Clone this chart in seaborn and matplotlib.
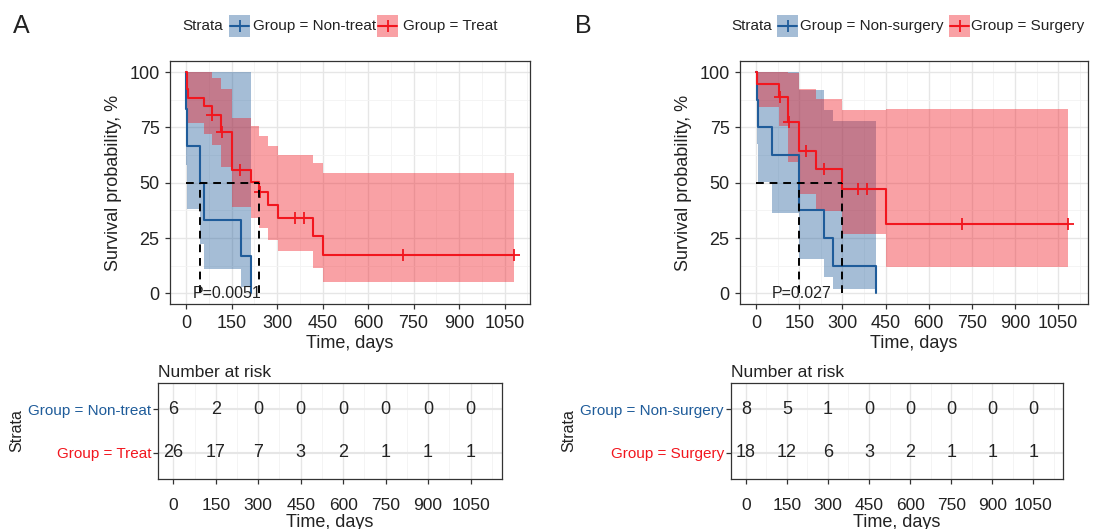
"""
Two Kaplan-Meier panels (A: treat vs non-treat, B: surgery vs non-surgery)
with 95% CI bands, median lines and a number-at-risk table under each.
"""

import matplotlib
matplotlib.use("Agg")
import matplotlib.pyplot as plt
import pandas as pd
import seaborn as sns
from matplotlib.patches import Rectangle

W, H = 1110, 529
BLUE = "#1F5C9A"
RED = "#F2161E"
BAND_ALPHA = 0.4
TEXT = "#222222"

# ---------------- data ----------------
# Panel A
a_groups = ["Group = Non-treat", "Group = Treat"]
a_nt_time = [0, 1, 4, 46, 59, 181, 213]
a_nt_surv = [100, 83.3, 66.7, 50, 33.3, 16.7, 0]
a_nt_upper = [100, 100, 100, 100, 100, 100, 100]
a_nt_lower = [100, 58, 37.9, 22.5, 10.8, 2.8, 2.8]

a_tr_time = [0, 3, 6, 60, 85, 115, 150, 213, 240, 270, 302, 420, 451, 1080]
a_tr_surv = [100, 92.3, 88.5, 84.6, 80.8, 72.7, 55.9, 50.3, 45.7, 39.9, 34.2, 25.7, 17.1, 17.1]
a_tr_upper = [100, 100, 100, 100, 97.3, 92.3, 79.2, 75.6, 71.1, 66.5, 62.5, 58.7, 54.2, 54.2]
a_tr_lower = [100, 81, 77, 71.8, 67, 57.3, 39, 34, 29.5, 24, 19, 11.5, 5.3, 5.3]
a_cens_time = [86, 118, 178, 243, 359, 389, 716, 1080]
a_cens_surv = [80.8, 72.7, 55.9, 45.7, 34.2, 34.2, 17.1, 17.1]
a_medians = [46, 240]
a_pval = "P=0.0051"
a_risk_nt = [6, 2, 0, 0, 0, 0, 0, 0]
a_risk_tr = [26, 17, 7, 3, 2, 1, 1, 1]

# Panel B
b_groups = ["Group = Non-surgery", "Group = Surgery"]
b_ns_time = [0, 2, 5, 56, 148, 236, 267, 418]
b_ns_surv = [100, 87.5, 75, 62.5, 37.5, 25, 12.5, 0]
b_ns_upper = [100, 100, 100, 100, 91.7, 83, 78, 78]
b_ns_lower = [100, 67.4, 50.3, 36.5, 15.3, 7.5, 2, 2]

b_su_time = [0, 3, 80, 110, 150, 207, 298, 451, 1084]
b_su_surv = [100, 94.4, 88.9, 77.5, 64.4, 56.2, 47.0, 31.3, 31.3]
b_su_upper = [100, 100, 100, 99.5, 92.2, 87.8, 83, 83.5, 83.5]
b_su_lower = [100, 84.4, 75.5, 59.5, 44.7, 37, 27, 12, 12]
b_cens_time = [84, 114, 174, 235, 354, 386, 717, 1084]
b_cens_surv = [88.9, 77.5, 64.4, 56.2, 47, 47, 31.3, 31.3]
b_medians = [148, 298]
b_pval = "P=0.027"
b_risk_ns = [8, 5, 1, 0, 0, 0, 0, 0]
b_risk_su = [18, 12, 6, 3, 2, 1, 1, 1]

risk_times = [0, 150, 300, 450, 600, 750, 900, 1050]

sns.set_theme(style="white")
plt.rcParams["font.family"] = ["Liberation Sans", "DejaVu Sans"]

fig = plt.figure(figsize=(W / 100, H / 100), dpi=100)


def px_axes(left, top, right, bottom):
    return fig.add_axes([left / W, 1 - bottom / H, (right - left) / W, (bottom - top) / H])


def frame(ax, xlim, ylim):
    ax.set_xlim(*xlim)
    ax.set_ylim(*ylim)
    ax.set_facecolor("white")
    for s in ax.spines.values():
        s.set_color("#333333")
        s.set_linewidth(0.9)
    ax.grid(which="major", color="#E6E6E6", lw=1.0)
    ax.grid(which="minor", color="#F3F3F3", lw=0.6)
    ax.set_axisbelow(True)
    ax.tick_params(which="major", length=3.5, width=0.9, color="#333333",
                   labelcolor=TEXT, bottom=True, left=True)
    ax.tick_params(which="minor", length=0)


def km_panel(ax, groups, t1, s1, u1, l1, t2, s2, u2, l2, ct, cs, meds, pval, pval_x, xlim):
    frame(ax, xlim, (-5, 105))
    ax.set_xticks(risk_times)
    ax.set_xticks([t + 75 for t in risk_times], minor=True)
    ax.set_yticks([0, 25, 50, 75, 100])
    ax.set_yticks([12.5, 37.5, 62.5, 87.5], minor=True)
    ax.tick_params(axis="both", labelsize=13, pad=4)

    ax.fill_between(t1, l1, u1, step="post", color=BLUE, alpha=BAND_ALPHA, lw=0)
    ax.fill_between(t2, l2, u2, step="post", color=RED, alpha=BAND_ALPHA, lw=0)

    df = pd.DataFrame({
        "time": t1 + t2,
        "surv": s1 + s2,
        "group": [groups[0]] * len(t1) + [groups[1]] * len(t2),
    })
    sns.lineplot(data=df, x="time", y="surv", hue="group", hue_order=groups,
                 palette={groups[0]: BLUE, groups[1]: RED}, drawstyle="steps-post",
                 estimator=None, lw=1.5, legend=False, ax=ax)
    sns.scatterplot(x=ct, y=cs, marker="+", s=70, color=RED, linewidth=1.3,
                    ax=ax, zorder=5)

    dash = dict(color="black", lw=1.4, ls=(0, (4, 3)), zorder=6)
    ax.plot([0, max(meds)], [50, 50], **dash)
    for m in meds:
        ax.plot([m, m], [0, 50], **dash)

    ax.text(pval_x, 0, pval, ha="left", va="center", fontsize=11.5, color=TEXT, zorder=7)
    ax.set_xlabel("Time, days", fontsize=13, color=TEXT, labelpad=2)
    ax.set_ylabel("Survival probability, %", fontsize=13, color=TEXT, labelpad=5)


def risk_table(ax, groups, r1, r2, xlim):
    frame(ax, xlim, (0.4, 2.6))
    ax.set_xticks(risk_times)
    ax.set_xticks([t + 75 for t in risk_times], minor=True)
    ax.set_yticks([2, 1])
    ax.set_yticklabels(groups)
    ax.grid(which="major", axis="y", color="#E6E6E6", lw=1.5)
    ax.tick_params(axis="x", labelsize=12.5, pad=10)
    ax.tick_params(axis="y", labelsize=11, pad=1.5)
    for lab, c in zip(ax.get_yticklabels(), [BLUE, RED]):
        lab.set_color(c)
    for t, a, b in zip(risk_times, r1, r2):
        ax.text(t, 2, str(a), ha="center", va="center", fontsize=13, color=TEXT)
        ax.text(t, 1, str(b), ha="center", va="center", fontsize=13, color=TEXT)
    ax.set_title("Number at risk", loc="left", fontsize=12.5, color=TEXT, pad=4)
    ax.set_xlabel("Time, days", fontsize=13, color=TEXT, labelpad=1)
    ax.set_ylabel("Strata", fontsize=11.5, color=TEXT, labelpad=3)


ax_a = px_axes(170, 61, 530, 304.4)
km_panel(ax_a, a_groups, a_nt_time, a_nt_surv, a_nt_upper, a_nt_lower,
         a_tr_time, a_tr_surv, a_tr_upper, a_tr_lower, a_cens_time, a_cens_surv,
         a_medians, a_pval, 23, (-53, 1134))
ax_b = px_axes(740, 61, 1088, 304.4)
km_panel(ax_b, b_groups, b_ns_time, b_ns_surv, b_ns_upper, b_ns_lower,
         b_su_time, b_su_surv, b_su_upper, b_su_lower, b_cens_time, b_cens_surv,
         b_medians, b_pval, 55, (-56, 1154))

rt_a = px_axes(158.3, 383, 501.7, 479)
risk_table(rt_a, a_groups, a_risk_nt, a_risk_tr, (-53, 1160))
rt_b = px_axes(730.7, 383, 1062.7, 479)
risk_table(rt_b, b_groups, b_risk_ns, b_risk_su, (-55, 1157))

# overlay in pixel coordinates for legends and panel letters
ov = fig.add_axes([0, 0, 1, 1], facecolor="none")
ov.set_xlim(0, W)
ov.set_ylim(H, 0)
ov.axis("off")


def legend(x_title, keys, labels):
    ov.text(x_title, 26, "Strata", ha="left", va="center", fontsize=11, color=TEXT)
    for (kx, tx), lab, c in zip(keys, labels, [BLUE, RED]):
        ov.add_patch(Rectangle((kx, 15), 21, 22, facecolor=c, alpha=BAND_ALPHA, lw=0))
        ov.plot([kx + 1, kx + 20], [26, 26], color=c, lw=1.5)
        ov.plot([kx + 10.5], [26], marker="+", ms=8, mew=1.3, color=c)
        ov.text(tx, 26, lab, ha="left", va="center", fontsize=11, color=TEXT)


legend(182, [(229, 253), (377, 403)], a_groups)
legend(731, [(777, 800), (949, 971)], b_groups)
ov.text(21, 26, "A", ha="center", va="center", fontsize=18, color=TEXT)
ov.text(583, 26, "B", ha="center", va="center", fontsize=18, color=TEXT)

fig.savefig("out.png", dpi=100)
